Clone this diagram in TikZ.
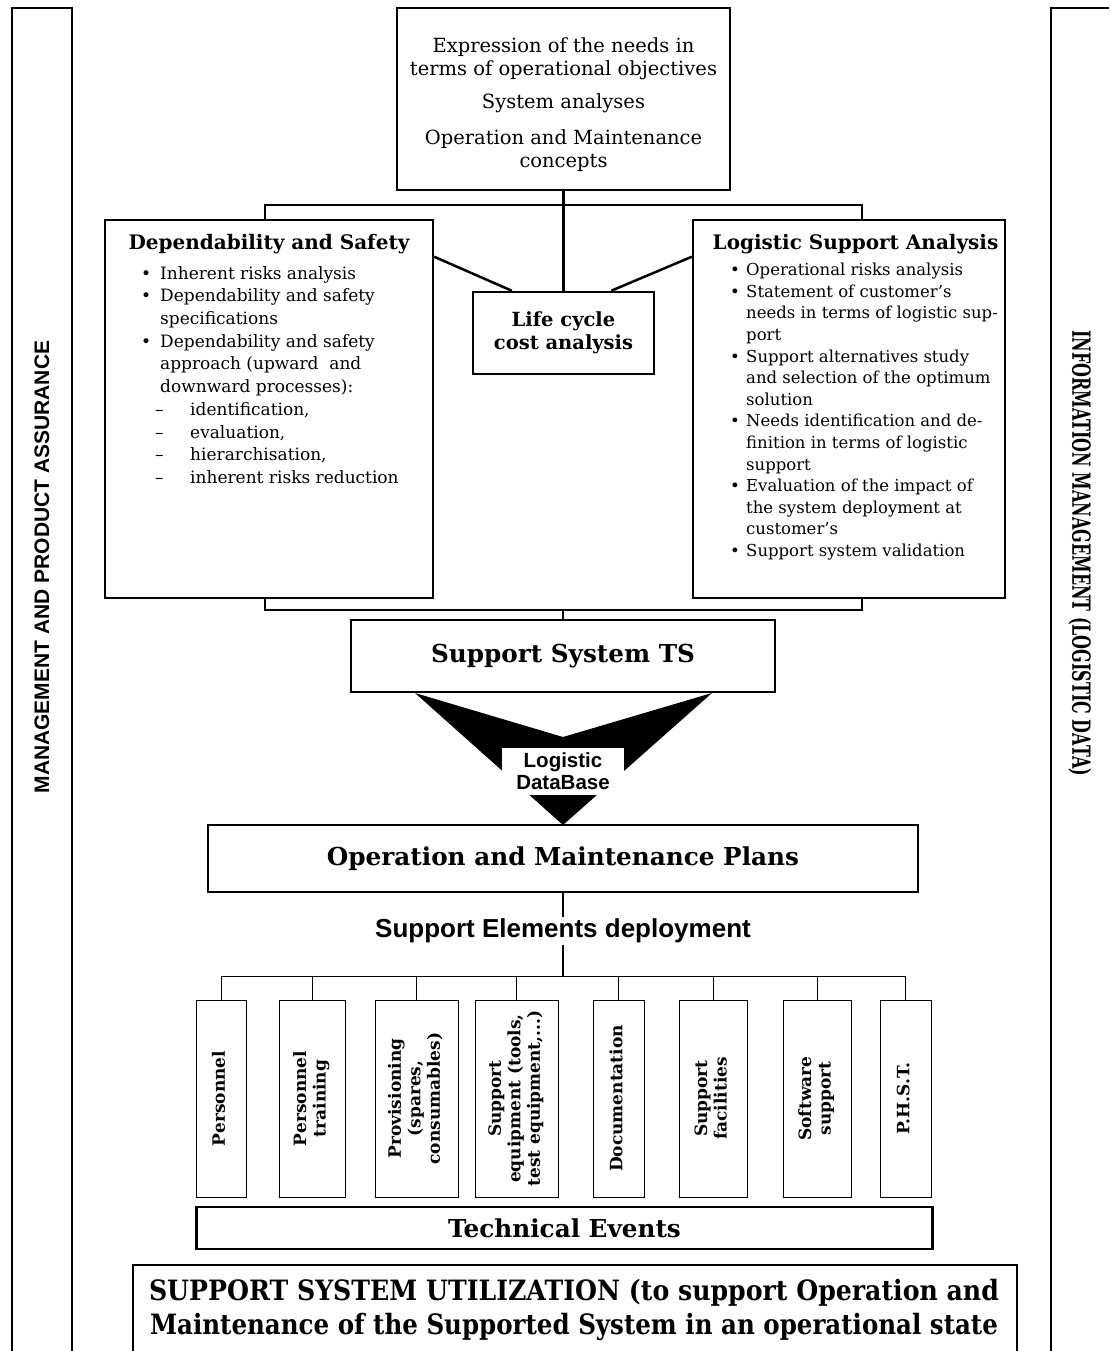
\documentclass[tikz,border=0pt]{standalone}
\usepackage{fontspec}
\setmainfont{DejaVu Serif}
\setsansfont{Liberation Sans}
\usepackage{graphicx}
\usetikzlibrary{positioning}

\newcommand{\bul}{\makebox[19pt][l]{\textbullet}}
\newcommand{\ind}{\hspace*{19pt}}
\newcommand{\dsh}{\hspace*{14pt}\makebox[35pt][l]{--}}
\newcommand{\rbul}{\makebox[16pt][l]{\textbullet}}
\newcommand{\rind}{\hspace*{16pt}}

\tikzset{
  box/.style={draw, line width=2.5pt, inner sep=0pt},
  elbox/.style={draw, line width=1pt, minimum height=197pt, inner sep=0pt,
    font=\bfseries\fontsize{17}{19.5}\selectfont},
  bus/.style={line width=2.5pt},
  thinbus/.style={line width=1pt},
  listtxt/.style={align=left, inner sep=0pt, font=\fontsize{17}{22.7}\selectfont},
  boxtitle/.style={inner sep=0pt, font=\bfseries\fontsize{20}{24}\selectfont},
  bigtxt/.style={font=\bfseries\fontsize{24.7}{28}\selectfont},
}

\begin{document}
\begin{tikzpicture}[x=1pt, y=-1pt]
\useasboundingbox (0,0) rectangle (1109,1351);

% side frames
\draw[bus] (12,1351) -- (12,8) -- (72,8) -- (72,1351);
\node[rotate=90, font=\sffamily\bfseries\fontsize{21}{24}\selectfont] (mgmt) at (42,567) {MANAGEMENT AND PRODUCT ASSURANCE};
\draw[bus] (1051,1351) -- (1051,8) -- (1109,8);
\node[rotate=-90, font=\bfseries\fontsize{25}{28}\selectfont] (info) at (1080,553) {\scalebox{0.637}[1]{INFORMATION MANAGEMENT (LOGISTIC DATA)}};

% needs and analyses
\node[box, minimum width=333pt, minimum height=182pt, align=center, font=\fontsize{19.5}{23}\selectfont] (needs) at (563.5,99)
  {\rule{0pt}{27pt}Expression of the needs in\\terms of operational objectives\\[10pt]System analyses\\[13pt]Operation and Maintenance\\concepts};

\node[box, minimum width=328pt, minimum height=378pt] (dep) at (269,409) {};
\node[boxtitle] (deptitle) at (269,244) {Dependability and Safety};
\node[listtxt, anchor=north west] (deplist) at (141,266) {%
\bul Inherent risks analysis\\
\bul Dependability and safety\\
\ind specifications\\
\bul Dependability and safety\\
\ind approach (upward\ \ and\\
\ind downward processes):\\
\dsh identification,\\
\dsh evaluation,\\
\dsh hierarchisation,\\
\dsh inherent risks reduction};

\node[box, minimum width=312pt, minimum height=378pt] (lsa) at (849,409) {};
\node[boxtitle] (lsatitle) at (855.5,244) {Logistic Support Analysis};
\node[listtxt, anchor=north west, font=\fontsize{16.5}{21.6}\selectfont] (lsalist) at (730,263) {%
\rbul Operational risks analysis\\
\rbul Statement of customer's\\
\rind needs in terms of logistic sup-\\
\rind port\\
\rbul Support alternatives study\\
\rind and selection of the optimum\\
\rind solution\\
\rbul Needs identification and de-\\
\rind finition in terms of logistic\\
\rind support\\
\rbul Evaluation of the impact of\\
\rind the system deployment at\\
\rind customer's\\
\rbul Support system validation};

\node[box, minimum width=181pt, minimum height=82pt, align=center, font=\bfseries\fontsize{19.5}{23}\selectfont] (lcc) at (563.5,333) {Life cycle\\cost analysis};

\coordinate (topL) at (265,205);
\coordinate (topR) at (862,205);
\draw[bus] (needs) -- (lcc);
\draw[bus] (topL |- dep.north) -- (topL) -- (topR) -- (topR |- lsa.north);
\draw[bus] ([yshift=-38pt]dep.north east) -- ([xshift=40pt]lcc.north west);
\draw[bus] ([yshift=-38pt]lsa.north west) -- ([xshift=-44pt]lcc.north east);

% support system
\node[box, bigtxt, minimum width=424pt, minimum height=72pt] (ts) at (563,656) {Support System TS};
\coordinate (botL) at (265,610);
\coordinate (botR) at (862,610);
\draw[bus] (botL |- dep.south) -- (botL) -- (botR) -- (botR |- lsa.south);
\draw[bus] (ts.north |- botL) -- (ts.north);

\fill (415,693) -- (563,737) -- (712,693) -- (563,825) -- cycle;
\node[fill=white, inner sep=0pt, minimum width=122pt, minimum height=47pt, align=center,
  font=\sffamily\bfseries\fontsize{20.5}{22}\selectfont] (db) at (563,771.5) {Logistic\\DataBase};

\node[box, bigtxt, minimum width=710pt, minimum height=67pt] (om) at (563,858.5) {Operation and Maintenance Plans};
\node[inner sep=2pt, font=\sffamily\bfseries\fontsize{26}{28}\selectfont] (sed) at (563,931) {Support Elements deployment};
\coordinate (ebus) at (563,976);
\draw[bus] (om.south) -- (sed.north);
\draw[bus] (sed.south) -- (ebus);

% support elements
\foreach \n/\x/\w/\t in {
  e1/221/50/{Personnel},
  e2/312/66/{Personnel\\training},
  e3/416.5/83/{Provisioning\\(spares,\\consumables)},
  e4/516.5/83/{Support\\equipment (tools,\\test equipment,...)},
  e5/618.5/51/{Documentation},
  e6/713/68/{Support\\facilities},
  e7/817/68/{Software\\support},
  e8/905.5/51/{P.H.S.T.}}
{
  \node[elbox, minimum width=\w pt] (\n) at (\x,1098.5) {\rotatebox{90}{\begin{tabular}{@{}c@{}}\t\end{tabular}}};
  \draw[thinbus] (\n.north) -- (\n.north |- ebus);
}
\draw[thinbus] (e1.north |- ebus) -- (e8.north |- ebus);

\node[box, bigtxt, minimum width=736pt, minimum height=42pt] (te) at (564.5,1228) {Technical Events};

% utilization
\draw[bus] (133,1351) -- (133,1265) -- (1017,1265) -- (1017,1351);
\node[align=center, inner sep=0pt, font=\bfseries\fontsize{28}{34}\selectfont] (ssu) at (574,1310)
  {\scalebox{0.9}[1]{SUPPORT SYSTEM UTILIZATION (to support Operation and}\\
   \scalebox{0.876}[1]{Maintenance of the Supported System in an operational state}};
\end{tikzpicture}
\end{document}
